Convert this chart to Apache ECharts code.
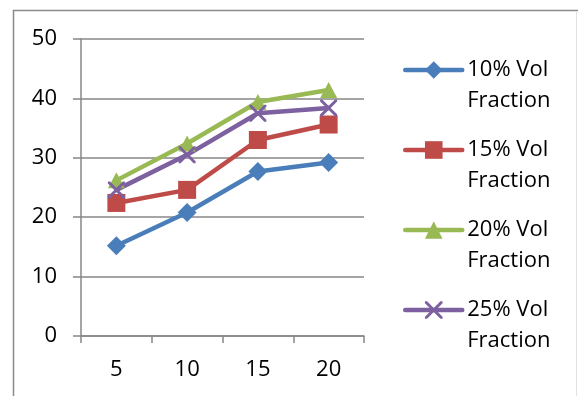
<!DOCTYPE html>
<html>
<head>
<meta charset="utf-8">
<script src="https://cdn.jsdelivr.net/npm/echarts@6/dist/echarts.min.js"></script>
<style>
  html, body { margin: 0; padding: 0; background: #fff; }
  #chart { width: 578px; height: 396px; }
</style>
</head>
<body>
<div id="chart"></div>
<script>
// x-axis categories
const categories = ['5', '10', '15', '20'];

// series values
const vol10 = [15.2, 20.8, 27.7, 29.2];
const vol15 = [22.4, 24.6, 33.0, 35.6];
const vol20 = [26.2, 32.4, 39.4, 41.4];
const vol25 = [24.6, 30.5, 37.5, 38.4];

const seriesNames = ['10% Vol Fraction', '15% Vol Fraction', '20% Vol Fraction', '25% Vol Fraction'];

// y-axis range and step
const yMin = 0, yMax = 50, yStep = 10;

const gray = '#878787';
const font = '"Open Sans", sans-serif';

// thin "X" marker
const crossPath = 'path://M0,0L1.2,0L5,3.8L8.8,0L10,0L10,1.2L6.2,5L10,8.8L10,10L8.8,10L5,6.2L1.2,10L0,10L0,8.8L3.8,5L0,1.2Z';

function lineSeries(name, data, color, symbol, size) {
  return {
    name: name,
    type: 'line',
    data: data,
    symbol: symbol,
    symbolSize: size,
    showSymbol: true,
    lineStyle: { color: color, width: 4.5, cap: 'round', join: 'round' },
    itemStyle: { color: color },
    z: 3
  };
}

const chart = echarts.init(document.getElementById('chart'), null, { renderer: 'canvas' });
chart.setOption({
  animation: false,
  backgroundColor: '#ffffff',
  grid: { left: 81, right: 214, top: 39, bottom: 60 },
  xAxis: {
    type: 'category',
    data: categories,
    boundaryGap: true,
    axisLine: { lineStyle: { color: gray, width: 1.5 } },
    axisTick: { show: true, length: 7, lineStyle: { color: gray, width: 1.5 } },
    axisLabel: { color: '#000', fontSize: 22, fontFamily: font, margin: 23 }
  },
  yAxis: {
    type: 'value',
    min: yMin, max: yMax, interval: yStep,
    axisLine: { show: true, lineStyle: { color: gray, width: 1.5 } },
    axisTick: { show: true, length: 8, lineStyle: { color: gray, width: 1.5 } },
    splitLine: { lineStyle: { color: gray, width: 1.5 } },
    axisLabel: { color: '#000', fontSize: 22, fontFamily: font, margin: 24 }
  },
  legend: {
    orient: 'vertical',
    left: 403,
    top: 23.5,
    padding: 0,
    itemGap: -13,
    itemWidth: 57,
    itemHeight: 22,
    lineStyle: { width: 4.5, cap: 'round' },
    data: seriesNames,
    // blank first row keeps the icon level with the "xx% Vol" row
    formatter: function (name) {
      const i = name.indexOf(' Fraction');
      return '\n' + name.slice(0, i) + '\n' + name.slice(i + 1);
    },
    textStyle: { color: '#000', fontSize: 22, fontFamily: font, lineHeight: 31 }
  },
  graphic: [
    { type: 'polyline', shape: { points: [[13.5, 400], [13.5, 10.5], [578, 10.5]] },
      style: { stroke: '#8a8a8a', lineWidth: 1.5, fill: null }, silent: true },
    { type: 'line', shape: { x1: 576.5, y1: 11, x2: 576.5, y2: 400 },
      style: { stroke: '#e2e2e2', lineWidth: 1 }, silent: true }
  ],
  series: [
    lineSeries(seriesNames[0], vol10, '#4a7ebb', 'diamond', 19),
    lineSeries(seriesNames[1], vol15, '#be4b48', 'rect', 18),
    lineSeries(seriesNames[2], vol20, '#98b954', 'triangle', [17, 16]),
    lineSeries(seriesNames[3], vol25, '#7d60a0', crossPath, 17)
  ]
});
</script>
</body>
</html>
